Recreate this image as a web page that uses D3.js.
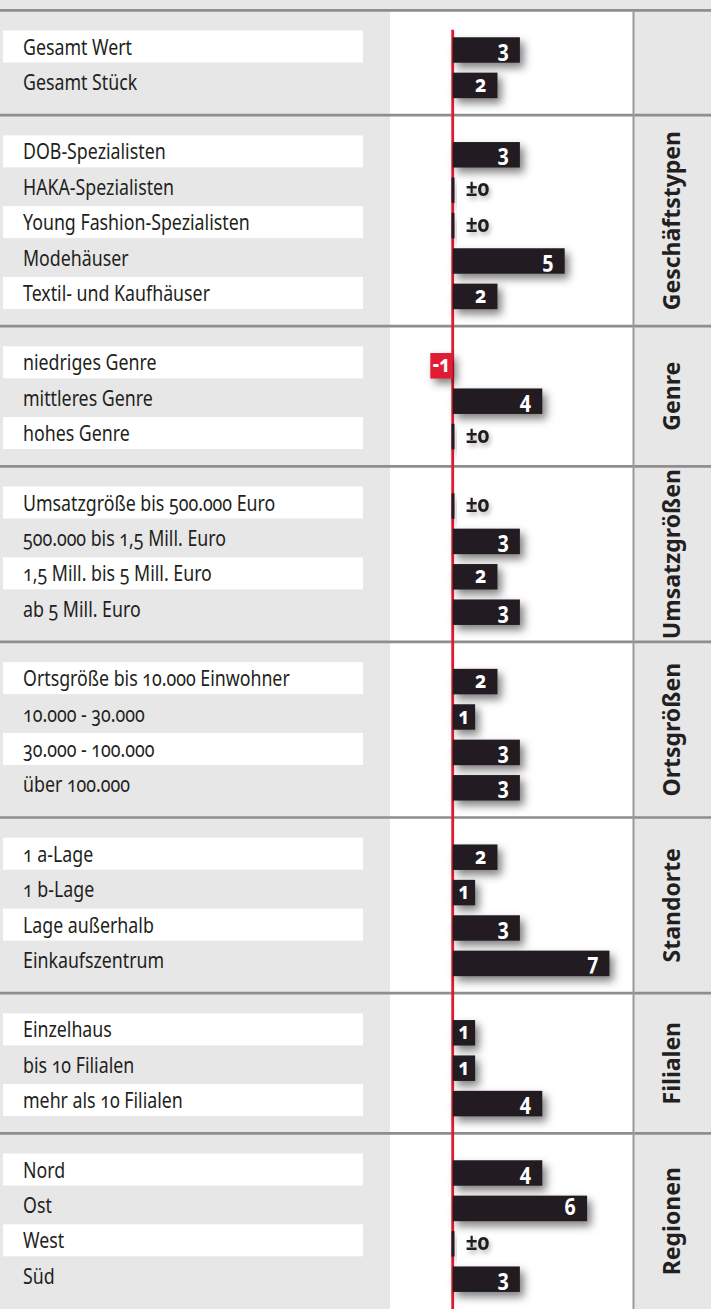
<!DOCTYPE html>
<html>
<head>
<meta charset="utf-8">
<script src="https://cdn.jsdelivr.net/npm/d3@7"></script>
<style>
  html, body { margin: 0; padding: 0; background: #e7e7e7; }
  svg { display: block; }
  text { font-family: "Noto Sans", "Open Sans", "DejaVu Sans", sans-serif; font-variant-numeric: oldstyle-nums; font-feature-settings: "onum" 1; }
</style>
</head>
<body>
<div id="chart"></div>
<script>
// ---------- data ----------
const groupNames = ["", "Geschäftstypen", "Genre", "Umsatzgrößen", "Ortsgrößen", "Standorte", "Filialen", "Regionen"];
const groupSizes = [2, 5, 3, 4, 4, 4, 3, 4];
const categories = [
  "Gesamt Wert", "Gesamt Stück",
  "DOB-Spezialisten", "HAKA-Spezialisten", "Young Fashion-Spezialisten", "Modehäuser", "Textil- und Kaufhäuser",
  "niedriges Genre", "mittleres Genre", "hohes Genre",
  "Umsatzgröße bis 500.000 Euro", "500.000 bis 1,5 Mill. Euro", "1,5 Mill. bis 5 Mill. Euro", "ab 5 Mill. Euro",
  "Ortsgröße bis 10.000 Einwohner", "10.000 - 30.000", "30.000 - 100.000", "über 100.000",
  "1 a-Lage", "1 b-Lage", "Lage außerhalb", "Einkaufszentrum",
  "Einzelhaus", "bis 10 Filialen", "mehr als 10 Filialen",
  "Nord", "Ost", "West", "Süd"
];
const values = [
  3, 2,
  3, 0, 0, 5, 2,
  -1, 4, 0,
  0, 3, 2, 3,
  2, 1, 3, 3,
  2, 1, 3, 7,
  1, 1, 4,
  4, 6, 0, 3
];

// ---------- layout ----------
const W = 711, H = 1309;
const headerY = 10.3;
const pitch = 35.4, padTop = 18.5, padBottom = 15.5;
const labelBoxX0 = 3, labelBoxX1 = 363, boxH = 32;
const panelX0 = 390, panelX1 = 633;
const barH = 25.5, barShift = 3.5;
const C = { bg: "#e7e7e7", rule: "#8e8e8e", ink: "#231f20", red: "#e01a30", white: "#ffffff" };

const x = d3.scaleLinear().domain([-2.8, 8.05]).range([panelX0, panelX1]);

// build groups with band scales
let cursor = headerY, idx = 0;
const groups = groupSizes.map((n, gi) => {
  const cats = categories.slice(idx, idx + n);
  const vals = values.slice(idx, idx + n);
  idx += n;
  const top = cursor;
  const band = d3.scaleBand().domain(cats).range([top + padTop, top + padTop + n * pitch]);
  const bottom = gi === groupSizes.length - 1 ? H : top + padTop + n * pitch + padBottom;
  cursor = bottom;
  return { name: groupNames[gi], cats, vals, top, bottom, band };
});

const svg = d3.select("#chart").append("svg").attr("width", W).attr("height", H);

const defs = svg.append("defs");
const f = defs.append("filter").attr("id", "shadow").attr("x", "-40%").attr("y", "-80%").attr("width", "200%").attr("height", "300%");
f.append("feDropShadow").attr("dx", 4).attr("dy", 5).attr("stdDeviation", 4.5).attr("flood-color", "#000").attr("flood-opacity", 0.5);
const f2 = defs.append("filter").attr("id", "shadowT").attr("x", "-30%").attr("y", "-60%").attr("width", "180%").attr("height", "260%");
f2.append("feDropShadow").attr("dx", 2).attr("dy", 3).attr("stdDeviation", 2.5).attr("flood-color", "#000").attr("flood-opacity", 0.3);

svg.append("rect").attr("width", W).attr("height", H).attr("fill", C.bg);
// chart panel
svg.append("rect").attr("x", panelX0).attr("y", headerY).attr("width", panelX1 - panelX0).attr("height", H - headerY).attr("fill", C.white);

// label boxes + labels
groups.forEach(g => {
  const gg = svg.append("g");
  g.cats.forEach((c, i) => {
    const cy = g.band(c) + g.band.bandwidth() / 2;
    if (i % 2 === 0) {
      gg.append("rect").attr("x", labelBoxX0).attr("y", cy - boxH / 2)
        .attr("width", labelBoxX1 - labelBoxX0).attr("height", boxH).attr("fill", C.white);
    }
    gg.append("text").attr("transform", `translate(23,${cy + 8}) scale(0.79,1)`)
      .attr("font-size", 22.5).attr("fill", C.ink).text(c);
  });
});

// separators
const seps = [headerY].concat(groups.slice(0, -1).map(g => g.bottom));
svg.selectAll("line.sep").data(seps).join("line").attr("class", "sep")
  .attr("x1", 0).attr("x2", W).attr("y1", d => d).attr("y2", d => d)
  .attr("stroke", C.rule).attr("stroke-width", 2.7);
// vertical divider
svg.append("line").attr("x1", 633.5).attr("x2", 633.5).attr("y1", headerY).attr("y2", H)
  .attr("stroke", "#9a9a9a").attr("stroke-width", 2);

// zero line
const firstTop = groups[0].band.range()[0];
svg.append("line").attr("x1", x(0)).attr("x2", x(0)).attr("y1", firstTop + 1).attr("y2", H)
  .attr("stroke", C.red).attr("stroke-width", 2.8);

// bars
groups.forEach(g => {
  g.cats.forEach((c, i) => {
    const v = g.vals[i];
    const cy = g.band(c) + g.band.bandwidth() / 2 + barShift;
    const y0 = cy - barH / 2;
    if (v === 0) {
      svg.append("rect").attr("x", x(0) - 1.2).attr("y", y0).attr("width", 3).attr("height", barH)
        .attr("fill", C.ink).attr("filter", "url(#shadow)");
      svg.append("text").attr("transform", `translate(${x(0) + 13},${cy + 6}) scale(0.9,1)`)
        .attr("font-size", 23).attr("font-weight", 700).attr("fill", C.ink)
        .attr("filter", "url(#shadowT)").text("±0");
      return;
    }
    const xa = Math.min(x(0), x(v)), xb = Math.max(x(0), x(v));
    svg.append("rect").attr("x", xa).attr("y", y0).attr("width", xb - xa).attr("height", barH)
      .attr("fill", v < 0 ? C.red : C.ink).attr("filter", "url(#shadow)");
    const small = Math.abs(v) <= 1;
    const tx = small ? (xa + xb) / 2 : xb - 11;
    svg.append("text").attr("transform", `translate(${tx},${cy + 6.5}) scale(0.82,1)`)
      .attr("text-anchor", small ? "middle" : "end")
      .attr("font-size", 24).attr("font-weight", 700).attr("fill", C.white)
      .text(v < 0 ? "-" + Math.abs(v) : String(v));
  });
});

// group titles (rotated)
groups.forEach(g => {
  if (!g.name) return;
  const cy = (g.top + g.bottom) / 2;
  svg.append("text").attr("transform", `translate(680,${cy}) rotate(-90)`)
    .attr("text-anchor", "middle").attr("font-size", 23).attr("font-weight", 700)
    .attr("fill", C.ink).text(g.name);
});
</script>
</body>
</html>
